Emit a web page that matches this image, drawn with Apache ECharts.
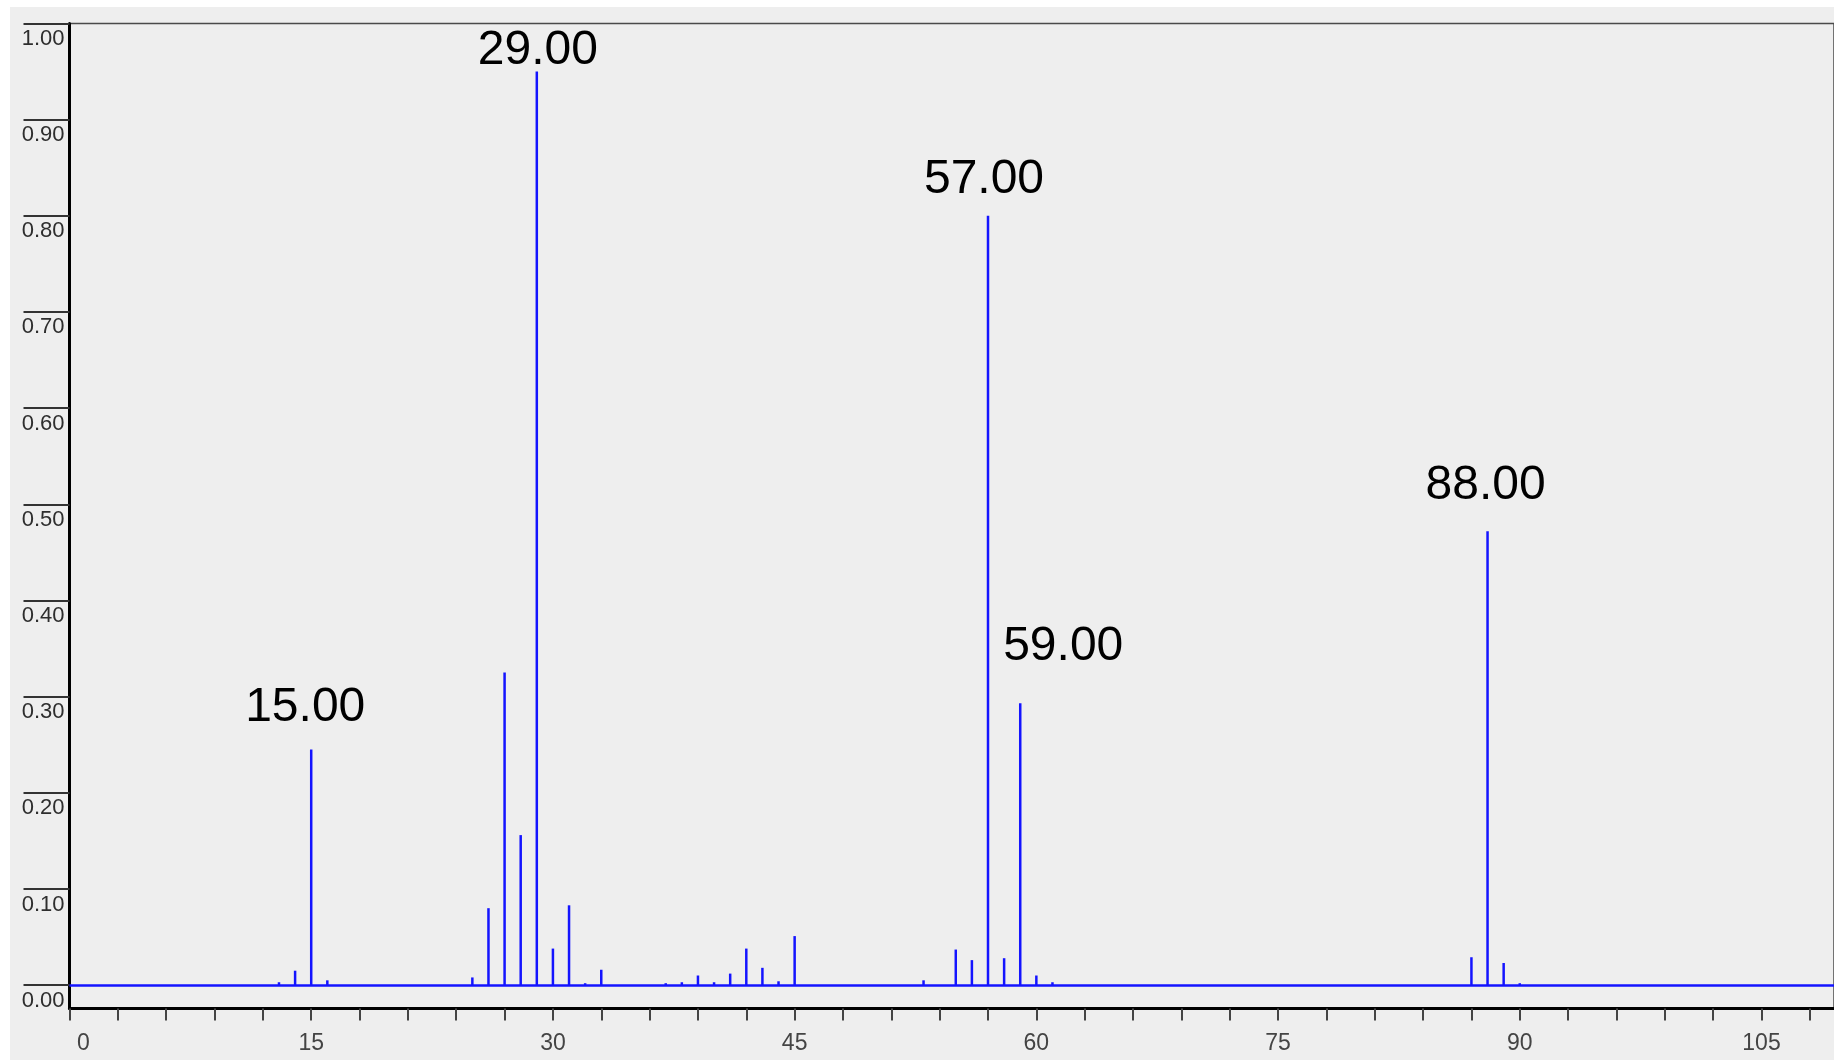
<!DOCTYPE html>
<html>
<head>
<meta charset="utf-8">
<script src="https://cdn.jsdelivr.net/npm/echarts@6/dist/echarts.min.js"></script>
<style>
  html, body { margin: 0; padding: 0; background: #ffffff; width: 1834px; height: 1060px; overflow: hidden; }
  #c { position: absolute; left: 10px; top: 7px; width: 1824px; height: 1053px; background: #eeeeee; }
</style>
</head>
<body>
<div id="c"></div>
<script>
// m/z positions of the spectrum lines
const mz = [13, 14, 15, 16, 25, 26, 27, 28, 29, 30, 31, 32, 33, 37, 38, 39, 40, 41, 42, 43, 44, 45, 53, 55, 56, 57, 58, 59, 60, 61, 87, 88, 89, 90];
// relative intensities
const intensity = [0.003, 0.015, 0.245, 0.005, 0.008, 0.080, 0.325, 0.156, 0.950, 0.038, 0.083, 0.002, 0.016, 0.002, 0.003, 0.010, 0.003, 0.012, 0.038, 0.018, 0.004, 0.051, 0.005, 0.037, 0.026, 0.800, 0.028, 0.293, 0.010, 0.003, 0.029, 0.472, 0.023, 0.002];
// peaks that carry a text label
const annotatedMz = [15, 29, 57, 59, 88];
// axis ticks / labels
const yTickValues = [0, 0.1, 0.2, 0.3, 0.4, 0.5, 0.6, 0.7, 0.8, 0.9, 1.0];
const xTickValues = [0, 3, 6, 9, 12, 15, 18, 21, 24, 27, 30, 33, 36, 39, 42, 45, 48, 51, 54, 57, 60, 63, 66, 69, 72, 75, 78, 81, 84, 87, 90, 93, 96, 99, 102, 105, 108];
const xLabelValues = [0, 15, 30, 45, 60, 75, 90, 105];

// label placement (style only)
const labelOffsets = { 15: [-6, -18], 29: [1, 3], 57: [-4, -12], 59: [43, -33], 88: [-2, -21] };

const BLUE = '#1414ff';

const barData = mz.map((m, i) => {
  const item = { value: [m, intensity[i]] };
  if (annotatedMz.indexOf(m) >= 0) {
    item.label = {
      show: true,
      position: 'top',
      distance: 0,
      offset: labelOffsets[m],
      formatter: (p) => p.value[0].toFixed(2),
      fontFamily: '"Liberation Sans", Arial, sans-serif',
      fontSize: 48,
      color: '#000000'
    };
  }
  return item;
});

const chart = echarts.init(document.getElementById('c'), null, { renderer: 'canvas' });
chart.setOption({
  animation: false,
  backgroundColor: 'transparent',
  grid: {
    left: 59.5, top: 16.4, right: -3, bottom: 51.5,
    show: true, borderColor: '#4a4a4a', borderWidth: 1.5, backgroundColor: 'transparent'
  },
  xAxis: {
    type: 'value',
    min: 0,
    max: 109.5,
    splitLine: { show: false },
    axisLine: { show: true, onZero: false, lineStyle: { color: '#000000', width: 3 } },
    axisTick: { show: true, customValues: xTickValues, length: 12, lineStyle: { color: '#444444', width: 2 } },
    axisLabel: {
      show: true,
      customValues: xLabelValues,
      margin: 24,
      fontFamily: '"Liberation Sans", Arial, sans-serif',
      fontSize: 23,
      color: '#444444',
      formatter: (v) => v === 0 ? '{z|0}' : String(v),
      rich: { z: { padding: [0, 0, 0, 28], fontSize: 23, color: '#444444', fontFamily: '"Liberation Sans", Arial, sans-serif' } }
    }
  },
  yAxis: {
    type: 'value',
    min: -0.0243,
    max: 1.0,
    splitLine: { show: false },
    axisLine: { show: true, onZero: false, lineStyle: { color: '#000000', width: 3 } },
    axisTick: { show: true, customValues: yTickValues, length: 46, lineStyle: { color: '#333333', width: 2 } },
    axisLabel: {
      show: true,
      customValues: yTickValues,
      margin: 5,
      verticalAlign: 'top',
      lineHeight: 31,
      fontFamily: '"Liberation Sans", Arial, sans-serif',
      fontSize: 22,
      color: '#2e2e2e',
      formatter: (v) => v.toFixed(2)
    }
  },
  series: [{
    type: 'bar',
    data: barData,
    barWidth: 2.5,
    itemStyle: { color: BLUE },
    label: { show: false },
    markLine: {
      silent: true,
      symbol: ['none', 'none'],
      label: { show: false },
      lineStyle: { color: BLUE, width: 2.5, type: 'solid' },
      data: [{ yAxis: 0 }]
    }
  }]
});
</script>
</body>
</html>
